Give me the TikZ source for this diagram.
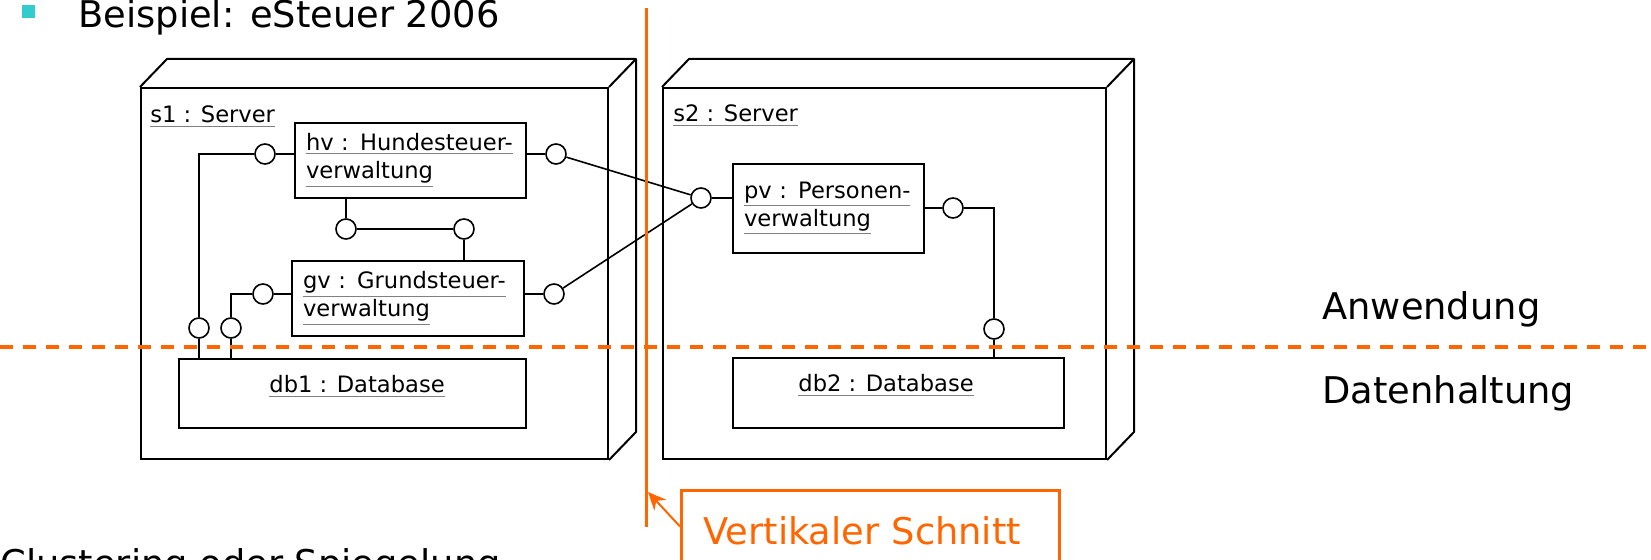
\documentclass[tikz,border=0pt]{standalone}
\usepackage{fontspec}
\setmainfont{DejaVu Sans}
\usetikzlibrary{arrows.meta}
\definecolor{cutorange}{RGB}{255,102,0}
\definecolor{bulletteal}{RGB}{51,204,204}
\newcommand{\objname}[1]{{\color{gray}\underline{\color{black}#1}}}

\begin{document}
\begin{tikzpicture}[x=0.5pt,y=-0.5pt,
      srv/.style={
         rectangle,
         draw=black,
         line width=1pt,
         inner sep=0pt},
      srvedge/.style={line width=1pt, line join=round},
      obj/.style={
         rectangle,
         draw=black,
         line width=1pt,
         inner xsep=5.5pt,
         align=left,
         font=\fontsize{11.3pt}{14pt}\selectfont},
      objtext/.style={inner sep=0pt, font=\fontsize{11.3pt}{14pt}\selectfont},
      port/.style={
         circle,
         draw=black,
         fill=white,
         line width=0.8pt,
         inner sep=0pt,
         minimum size=10pt},
      wire/.style={line width=0.8pt},
      bigtext/.style={inner sep=0pt, font=\fontsize{18.4pt}{22pt}\selectfont},
      bullet/.style={rectangle, fill=bulletteal, inner sep=0pt, minimum size=6.5pt},
      cutline/.style={draw=cutorange, line width=1.5pt},
      layerline/.style={draw=cutorange, line width=2pt, dash pattern=on 6.5pt off 5pt},
      cutbox/.style={
         rectangle,
         draw=cutorange,
         line width=1.5pt,
         text=cutorange,
         align=left,
         text width=167pt,
         inner xsep=11pt,
         inner ysep=3pt,
         text height=24pt,
         text depth=6pt,
         font=\fontsize{18.4pt}{22pt}\selectfont},
      cutarrow/.style={draw=cutorange, line width=1pt, -{Stealth[length=9pt,width=8pt]}},
      ]
      \useasboundingbox (0,0) rectangle (1651,560);
      \node[bullet] (dot) at (28.5,11.5) {};
      \node[bigtext, anchor=base west] (title) at (78,28) {Beispiel: eSteuer 2006};
      \node[srv, anchor=north west, minimum width=233.5pt, minimum height=185.5pt] (s1) at (140,87) {};
      \node[srv, anchor=north west, minimum width=221.5pt, minimum height=185.5pt] (s2) at (662,87) {};
    \foreach \s in {s1,s2} {
       \draw[srvedge] (\s.north west) -- ++(27,-28) -- ([shift={(27,-28)}]\s.north east)
          -- ([shift={(27,-28)}]\s.south east) -- (\s.south east);
       \draw[srvedge] (\s.north east) -- ++(27,-28);
    }
      \node[objtext, anchor=base west] (s1t) at (150,123) {\objname{s1 : Server}};
      \node[objtext, anchor=base west] (s2t) at (673,122) {\objname{s2 : Server}};
      \node[obj, anchor=north west, text width=104.5pt, minimum height=37.5pt] (hv) at (294,122)
         {\objname{hv : Hundesteuer-}\\\objname{verwaltung}};
      \node[obj, anchor=north west, text width=105pt, minimum height=37.5pt] (gv) at (291,260)
         {\objname{gv : Grundsteuer-}\\\objname{verwaltung}};
      \node[obj, anchor=north west, text width=84.5pt, minimum height=44.5pt] (pv) at (732,163)
         {\objname{pv : Personen-}\\\objname{verwaltung}};
      \node[obj, anchor=north west, minimum width=173.5pt, minimum height=34.5pt] (db1) at (178,358) {};
      \node[obj, anchor=north west, minimum width=165.5pt, minimum height=35pt] (db2) at (732,357) {};
      \node[objtext, anchor=base west] (db1t) at (269,393) {\objname{db1 : Database}};
      \node[objtext, anchor=base west] (db2t) at (798,392) {\objname{db2 : Database}};
      \node[port] (hvL) at (265,154) {};
      \node[port] (hvR) at (556,154) {};
      \node[port] (hvB) at (346,229) {};
      \node[port] (gvT) at (464,229) {};
      \node[port] (gvL) at (263,294) {};
      \node[port] (gvR) at (554,294) {};
      \node[port] (pvL) at (701,198) {};
      \node[port] (pvR) at (953,208) {};
      \node[port] (db1a) at (199,328) {};
      \node[port] (db1b) at (231,328) {};
      \node[port] (db2a) at (994,329) {};
    \foreach \a/\b in {hvL/hv.west, hvR/hv.east, gvL/gv.west, gvR/gv.east, pvL/pv.west, pvR/pv.east}
       \draw[wire] (\a) -- (\a -| \b);
    \foreach \a/\b in {hvB/hv.south, gvT/gv.north, db1a/db1.north, db1b/db1.north, db2a/db2.north}
       \draw[wire] (\a) -- (\a |- \b);
    \foreach \a/\b in {hvL/db1a, gvL/db1b, pvR/db2a}
       \draw[wire] (\a) -| (\b);
    \foreach \a/\b in {hvB/gvT, hvR/pvL, gvR/pvL}
       \draw[wire] (\a) -- (\b);
      \node[bigtext, anchor=base west] (app) at (1322,320) {Anwendung};
      \node[bigtext, anchor=base west] (data) at (1322,404) {Datenhaltung};
      \coordinate (layerL) at (0,347);
      \coordinate (layerR) at (1651,347);
      \draw[layerline] (layerL) -- (layerR);
      \coordinate (cuttop) at (646,8);
      \coordinate (cutbot) at (646,527);
      \draw[cutline] (cuttop) -- (cutbot);
      \node[cutbox, anchor=north west] (cutlabel) at (680,489) {Vertikaler Schnitt};
      \coordinate (cuttip) at (648,492);
      \draw[cutarrow] (cutlabel.west) -- (cuttip);
      \node[bigtext, anchor=base west] (next) at (0,577) {Clustering oder Spiegelung};
\end{tikzpicture}
\end{document}
